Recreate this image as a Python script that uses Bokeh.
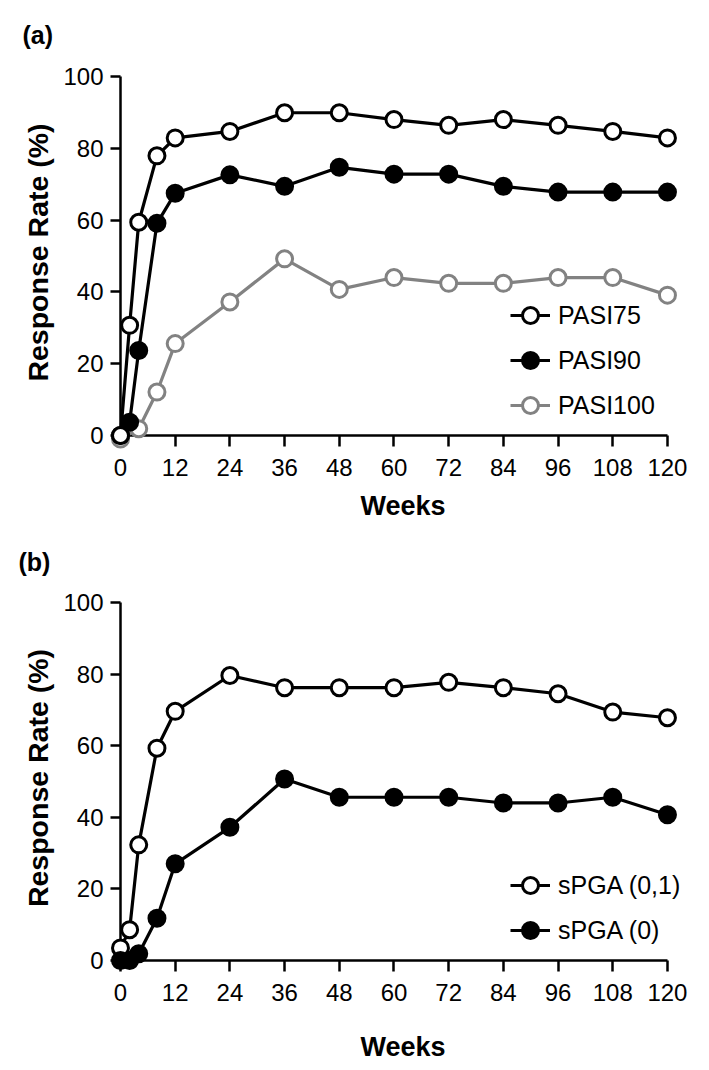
from bokeh.plotting import figure
from bokeh.models import FixedTicker, Legend, LegendItem
from bokeh.layouts import column
from bokeh.embed import file_html
from bokeh.resources import INLINE

# ---------------- data ----------------
weeks = [0, 2, 4, 8, 12, 24, 36, 48, 60, 72, 84, 96, 108, 120]
weeks_pasi100 = [0, 4, 8, 12, 24, 36, 48, 60, 72, 84, 96, 108, 120]

pasi75 = [0, 30.7, 59.4, 77.9, 82.9, 84.7, 89.9, 89.9, 88.0, 86.4, 88.0, 86.4, 84.7, 82.9]
pasi90 = [0, 3.7, 23.7, 59.1, 67.5, 72.6, 69.4, 74.7, 72.8, 72.8, 69.4, 67.8, 67.8, 67.8]
pasi100 = [-1.0, 1.9, 12.1, 25.6, 37.2, 49.2, 40.7, 44.0, 42.4, 42.4, 44.0, 44.0, 39.1]

spga01 = [3.5, 8.6, 32.3, 59.3, 69.6, 79.6, 76.2, 76.2, 76.2, 77.7, 76.2, 74.5, 69.4, 67.8]
spga0 = [0, 0, 1.9, 11.8, 27.0, 37.2, 50.7, 45.6, 45.6, 45.6, 44.0, 44.0, 45.6, 40.7]

x_ticks = [0, 12, 24, 36, 48, 60, 72, 84, 96, 108, 120]
y_ticks = [0, 20, 40, 60, 80, 100]

FONT = "Liberation Sans"
GRAY = "#828282"


def make_panel(tag, tag_offset, tag_standoff, height, top, bottom, weeks_standoff):
    p = figure(width=709, height=height,
               x_range=(0, 123.96), y_range=(0, 101.95),
               output_backend="svg", toolbar_location=None,
               min_border_left=120, min_border_right=24,
               min_border_top=top, min_border_bottom=bottom)
    p.outline_line_color = None
    p.grid.visible = False

    p.title.text = tag
    p.title.align = "left"
    p.title.vertical_align = "top"
    p.title.offset = tag_offset
    p.title.standoff = tag_standoff
    p.title.text_font = FONT
    p.title.text_font_size = "25px"
    p.title.text_font_style = "bold"
    p.title.text_color = "black"

    for ax in (p.xaxis[0], p.yaxis[0]):
        ax.axis_line_width = 2.5
        ax.axis_line_color = "black"
        ax.major_tick_line_width = 2.5
        ax.major_tick_line_color = "black"
        ax.major_tick_in = 0
        ax.minor_tick_line_color = None
        ax.major_label_text_font = FONT
        ax.major_label_text_font_size = "24px"
        ax.major_label_text_color = "black"
        ax.axis_label_text_font = FONT
        ax.axis_label_text_font_style = "bold"
        ax.axis_label_text_color = "black"

    xa = p.xaxis[0]
    xa.ticker = FixedTicker(ticks=x_ticks)
    xa.bounds = (0, 120)
    xa.major_tick_out = 11
    xa.major_label_standoff = 12
    xa.axis_label = "Weeks"
    xa.axis_label_text_font_size = "27px"
    xa.axis_label_standoff = weeks_standoff

    ya = p.yaxis[0]
    ya.ticker = FixedTicker(ticks=y_ticks)
    ya.bounds = (0, 100)
    ya.major_tick_out = 10
    ya.major_label_standoff = 7
    ya.axis_label = "Response Rate (%)"
    ya.axis_label_text_font_size = "28.5px"
    ya.axis_label_standoff = 6
    return p


def add_series(p, x, y, color, fill):
    l = p.line(x, y, line_color=color, line_width=3.2, level="overlay")
    s = p.scatter(x, y, size=16, marker="circle", fill_color=fill,
                  line_color=color, line_width=3, level="overlay")
    return [l, s]


def add_legend(p, items, loc):
    lg = Legend(items=[LegendItem(label=t, renderers=r) for t, r in items],
                location=loc, glyph_width=40, glyph_height=40, label_height=40,
                spacing=5, padding=0, margin=0, label_standoff=8,
                border_line_color=None, background_fill_alpha=0,
                label_text_font=FONT, label_text_font_size="25px",
                label_text_color="black")
    p.add_layout(lg)


# ---------------- panel (a) ----------------
pa = make_panel("(a)", -98, 38, 528, 69, 93, 12)
r100 = add_series(pa, weeks_pasi100, pasi100, GRAY, "white")
r90 = add_series(pa, weeks, pasi90, "black", "black")
r75 = add_series(pa, weeks, pasi75, "black", "white")
add_legend(pa, [("PASI75", r75), ("PASI90", r90), ("PASI100", r100)], (390, 10))

# ---------------- panel (b) ----------------
pb = make_panel("(b)", -102, 36, 541, 67, 109, 28)
r01 = add_series(pb, weeks, spga01, "black", "white")
r0 = add_series(pb, weeks, spga0, "black", "black")
add_legend(pb, [("sPGA (0,1)", r01), ("sPGA (0)", r0)], (390, 10))

layout = column(pa, pb, spacing=0)
open("out.html", "w").write(file_html(layout, INLINE))
